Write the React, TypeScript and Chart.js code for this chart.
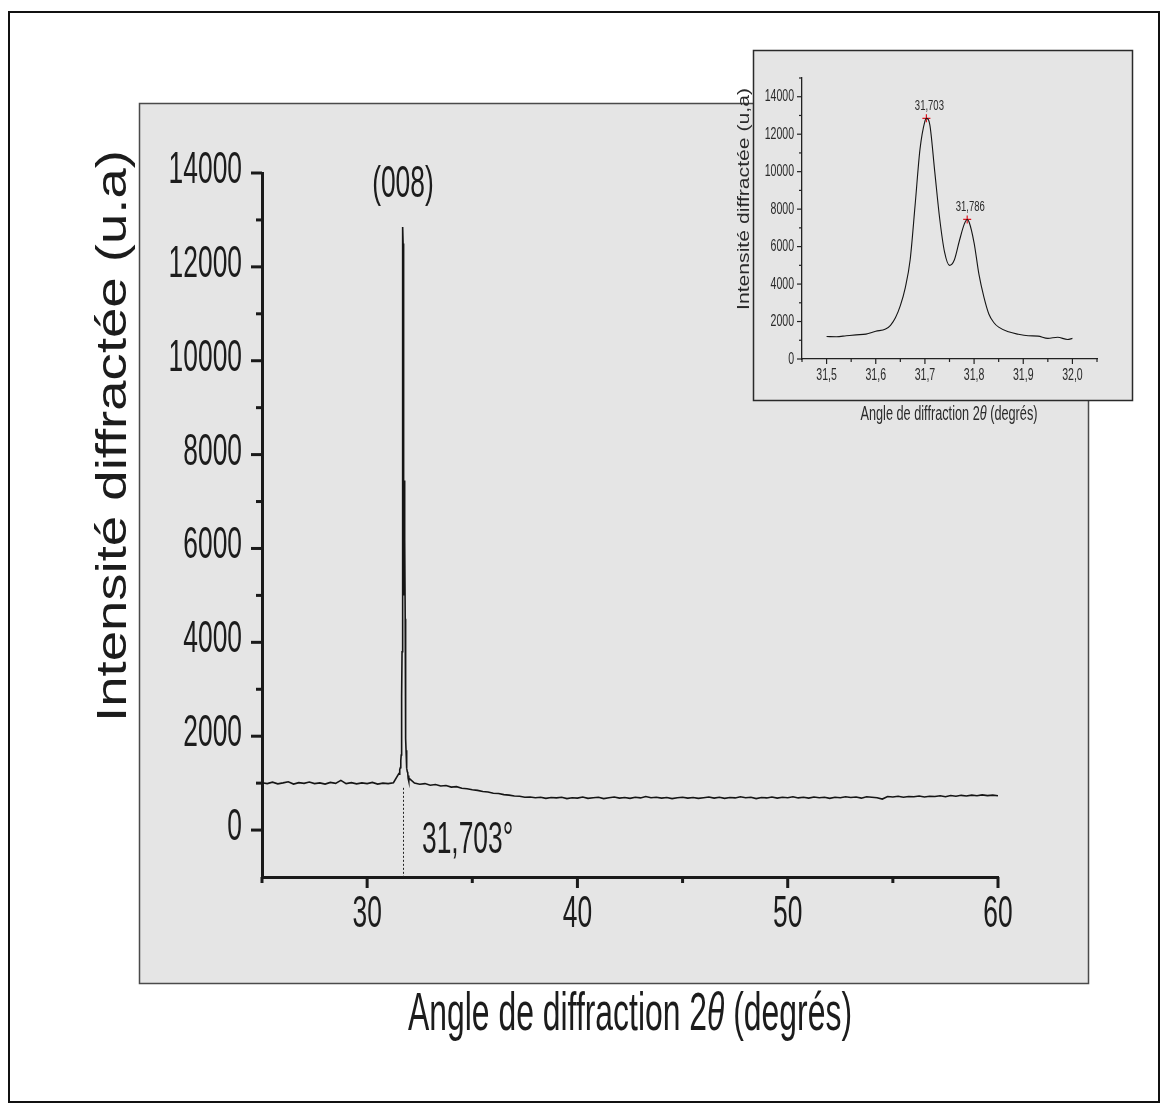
import React, { useEffect, useRef } from 'react';
import { Chart, registerables } from 'chart.js';

Chart.register(...registerables);

// ---------------- DATA ----------------
// main scan: evenly spaced 2θ grid (step 0.25°) before and after the (008) doublet
const SCAN_STEP = 0.25;
const PRE_START = 25.0;
const PRE_COUNTS = [
  1010, 990, 1020, 985, 1005, 1030, 980, 1010, 995, 1025, 990, 1005, 980,
  1015, 995, 1060, 990, 1010, 985, 1005, 990, 1015, 980, 1000, 990, 1010,
];
const POST_START = 32.25;
const POST_COUNTS = [
  1000, 975, 990, 955, 970, 940, 950, 915,
  925, 890, 880, 860, 845, 820, 810, 785,
  780, 755, 745, 725, 720, 700, 705, 690,
  700, 675, 695, 685, 700, 670, 690, 680,
  705, 675, 690, 700, 670, 690, 705, 680,
  695, 675, 700, 685, 715, 690, 700, 680,
  695, 670, 690, 700, 680, 695, 675, 690,
  705, 680, 700, 675, 695, 685, 710, 690,
  700, 670, 695, 685, 705, 680, 700, 690,
  710, 685, 700, 680, 705, 690, 700, 675,
  700, 690, 710, 695, 705, 680, 710, 700,
  690, 660, 715, 705, 720, 700, 715, 710,
  725, 705, 720, 715, 730, 710, 735, 720,
  740, 725, 745, 730, 750, 735, 745, 730,
];
// fine scan of the doublet (inset)
const PEAK_ANGLES = [
  31.5, 31.52, 31.54, 31.56, 31.58, 31.6, 31.62, 31.63, 31.64, 31.65, 31.66,
  31.67, 31.68, 31.69, 31.7, 31.703, 31.71, 31.72, 31.73, 31.74, 31.75, 31.76,
  31.77, 31.78, 31.786, 31.79, 31.8, 31.81, 31.82, 31.83, 31.84, 31.85, 31.87,
  31.89, 31.91, 31.93, 31.95, 31.97, 31.99, 32.0,
];
const PEAK_COUNTS = [
  1200, 1190, 1240, 1290, 1330, 1480, 1600, 1800, 2200, 2850, 3800,
  5300, 8200, 11200, 12700, 12850, 12500, 10000, 7500, 5700, 5000, 5300,
  6300, 7200, 7450, 7300, 6200, 4500, 3300, 2400, 1950, 1700, 1450,
  1320, 1240, 1220, 1100, 1160, 1040, 1100,
];
const MARKER_ANGLES = [31.703, 31.786];
const MARKER_COUNTS = [12850, 7450];
const MARKER_LABELS = ['31,703', '31,786'];

const MAIN_PEAK_LABEL = '(008)';
const MAIN_PEAK_ANGLE = 31.703;
const MAIN_PEAK_TEXT = '31,703°';

const MAIN_X_MAJOR = [30, 40, 50, 60];
const MAIN_X_MINOR = [25, 35, 45, 55];
const MAIN_Y_MAJOR = [0, 2000, 4000, 6000, 8000, 10000, 12000, 14000];
const MAIN_Y_MINOR = [1000, 3000, 5000, 7000, 9000, 11000, 13000];

const INSET_X_MAJOR = [31.5, 31.6, 31.7, 31.8, 31.9, 32.0];
const INSET_X_LABELS = ['31,5', '31,6', '31,7', '31,8', '31,9', '32,0'];
const INSET_X_MINOR = [31.45, 31.55, 31.65, 31.75, 31.85, 31.95, 32.05];
const INSET_Y_MAJOR = [0, 2000, 4000, 6000, 8000, 10000, 12000, 14000];
const INSET_Y_MINOR = [1000, 3000, 5000, 7000, 9000, 11000, 13000, 15000];

const Y_TITLE_MAIN = 'Intensité diffractée (u.a)';
const Y_TITLE_INSET = 'Intensité diffractée (u,a)';
const X_TITLE_SEGS = [
  { t: 'Angle de diffraction 2' },
  { t: 'θ', italic: true },
  { t: ' (degrés)' },
];

// ---------------- HELPERS ----------------
const FONT = '"Liberation Sans", Arial, Helvetica, sans-serif';
const INK = '#1c1c1c';

type Seg = { t: string; italic?: boolean };
function drawText(
  ctx: CanvasRenderingContext2D,
  text: string | Seg[],
  x: number,
  y: number,
  size: number,
  opts: { width?: number; scale?: number; align?: 'left' | 'center' | 'right'; rotate?: number; color?: string }
) {
  const parts: Seg[] = typeof text === 'string' ? [{ t: text }] : text;
  ctx.save();
  ctx.translate(x, y);
  if (opts.rotate) ctx.rotate(opts.rotate);
  let natural = 0;
  const widths = parts.map((p) => {
    ctx.font = `${p.italic ? 'italic ' : ''}${size}px ${FONT}`;
    const w = ctx.measureText(p.t).width;
    natural += w;
    return w;
  });
  const s = opts.width ? opts.width / natural : opts.scale ?? 1;
  const total = natural * s;
  const start = opts.align === 'left' ? 0 : opts.align === 'right' ? -total : -total / 2;
  ctx.translate(start, 0);
  ctx.scale(s, 1);
  ctx.textAlign = 'left';
  ctx.textBaseline = 'alphabetic';
  ctx.fillStyle = opts.color ?? INK;
  let cx = 0;
  parts.forEach((p, i) => {
    ctx.font = `${p.italic ? 'italic ' : ''}${size}px ${FONT}`;
    ctx.fillText(p.t, cx, 0);
    cx += widths[i];
  });
  ctx.restore();
}

function line(ctx: CanvasRenderingContext2D, x1: number, y1: number, x2: number, y2: number) {
  ctx.beginPath();
  ctx.moveTo(x1, y1);
  ctx.lineTo(x2, y2);
  ctx.stroke();
}

// ---------------- COMPONENT ----------------
export default function App() {
  const mainRef = useRef<HTMLCanvasElement | null>(null);
  const insetRef = useRef<HTMLCanvasElement | null>(null);

  useEffect(() => {
    const mainPoints: { x: number; y: number }[] = [];
    PRE_COUNTS.forEach((c, i) => mainPoints.push({ x: PRE_START + i * SCAN_STEP, y: c }));
    PEAK_ANGLES.forEach((a, i) => mainPoints.push({ x: a, y: PEAK_COUNTS[i] }));
    POST_COUNTS.forEach((c, i) => mainPoints.push({ x: POST_START + i * SCAN_STEP, y: c }));

    const mainDecor = {
      id: 'mainDecor',
      beforeDraw(chart: any) {
        const ctx = chart.ctx as CanvasRenderingContext2D;
        ctx.save();
        ctx.fillStyle = '#ffffff';
        ctx.fillRect(0, 0, chart.width, chart.height);
        // outer frame
        ctx.strokeStyle = '#111';
        ctx.lineWidth = 2;
        ctx.strokeRect(9, 12, 1150, 1090);
        // grey panel
        ctx.fillStyle = '#e5e5e5';
        ctx.fillRect(139, 103, 950, 881);
        ctx.strokeStyle = '#4a4a4a';
        ctx.lineWidth = 1.5;
        ctx.strokeRect(139.5, 103.5, 949, 880);
        ctx.restore();
      },
      afterDraw(chart: any) {
        const ctx = chart.ctx as CanvasRenderingContext2D;
        const xs = chart.scales.x;
        const ys = chart.scales.y;
        const { left, bottom } = chart.chartArea;
        ctx.save();
        ctx.strokeStyle = '#1a1a1a';
        ctx.lineWidth = 3;
        MAIN_X_MAJOR.forEach((v) => line(ctx, xs.getPixelForValue(v), bottom, xs.getPixelForValue(v), bottom + 11));
        MAIN_X_MINOR.forEach((v) => line(ctx, xs.getPixelForValue(v), bottom, xs.getPixelForValue(v), bottom + 6));
        MAIN_Y_MAJOR.forEach((v) => line(ctx, left - 11, ys.getPixelForValue(v), left, ys.getPixelForValue(v)));
        MAIN_Y_MINOR.forEach((v) => line(ctx, left - 6, ys.getPixelForValue(v), left, ys.getPixelForValue(v)));
        // tick labels
        MAIN_X_MAJOR.forEach((v) => drawText(ctx, String(v), xs.getPixelForValue(v), bottom + 50, 44, { scale: 0.6, align: 'center' }));
        MAIN_Y_MAJOR.forEach((v) => drawText(ctx, String(v), left - 20, ys.getPixelForValue(v) + 10, 44, { scale: 0.6, align: 'right' }));
        // titles
        drawText(ctx, X_TITLE_SEGS, 630, 1030, 53, { width: 444, align: 'center' });
        drawText(ctx, Y_TITLE_MAIN, 126, 436, 43, { width: 572, align: 'center', rotate: -Math.PI / 2 });
        // peak annotation
        const px = xs.getPixelForValue(MAIN_PEAK_ANGLE);
        drawText(ctx, MAIN_PEAK_LABEL, px, 197, 44, { scale: 0.6, align: 'center' });
        drawText(ctx, MAIN_PEAK_TEXT, px + 19, 853, 44, { scale: 0.6, align: 'left' });
        ctx.strokeStyle = '#222';
        ctx.lineWidth = 1;
        ctx.setLineDash([2, 2]);
        line(ctx, Math.round(px) + 0.5, ys.getPixelForValue(900), Math.round(px) + 0.5, bottom);
        ctx.restore();
      },
    };

    const main = new Chart(mainRef.current as HTMLCanvasElement, {
      type: 'line',
      data: {
        datasets: [
          {
            data: mainPoints,
            borderColor: '#151515',
            borderWidth: 1.6,
            pointRadius: 0,
            tension: 0,
            fill: false,
          },
        ],
      },
      options: {
        responsive: false,
        animation: false,
        devicePixelRatio: 1,
        layout: { padding: { top: 173, right: 170, left: 0, bottom: 0 } },
        plugins: { legend: { display: false }, tooltip: { enabled: false }, title: { display: false } },
        scales: {
          x: {
            type: 'linear',
            min: 25,
            max: 60,
            ticks: { display: false },
            grid: { display: false, drawTicks: false },
            border: { display: true, width: 3, color: '#1a1a1a' },
            afterFit: (s: any) => {
              s.height = 236;
            },
          },
          y: {
            type: 'linear',
            min: -1000,
            max: 14000,
            ticks: { display: false },
            grid: { display: false, drawTicks: false },
            border: { display: true, width: 3, color: '#1a1a1a' },
            afterFit: (s: any) => {
              s.width = 262;
            },
          },
        },
      } as any,
      plugins: [mainDecor],
    });

    // ---------- inset ----------
    const OX = 720;
    const OY = 40;
    const insetDecor = {
      id: 'insetDecor',
      beforeDraw(chart: any) {
        const ctx = chart.ctx as CanvasRenderingContext2D;
        ctx.save();
        ctx.fillStyle = '#e5e5e5';
        ctx.fillRect(753 - OX, 50 - OY, 380, 351);
        ctx.strokeStyle = '#2a2a2a';
        ctx.lineWidth = 1.5;
        ctx.strokeRect(753.5 - OX, 50.5 - OY, 379, 350);
        ctx.restore();
      },
      afterDraw(chart: any) {
        const ctx = chart.ctx as CanvasRenderingContext2D;
        const xs = chart.scales.x;
        const ys = chart.scales.y;
        const { left, bottom } = chart.chartArea;
        ctx.save();
        ctx.strokeStyle = '#222';
        ctx.lineWidth = 1.2;
        INSET_X_MAJOR.forEach((v) => line(ctx, xs.getPixelForValue(v), bottom, xs.getPixelForValue(v), bottom + 5));
        INSET_X_MINOR.forEach((v) => line(ctx, xs.getPixelForValue(v), bottom, xs.getPixelForValue(v), bottom + 3));
        INSET_Y_MAJOR.forEach((v) => line(ctx, left - 5, ys.getPixelForValue(v), left, ys.getPixelForValue(v)));
        INSET_Y_MINOR.forEach((v) => line(ctx, left - 3, ys.getPixelForValue(v), left, ys.getPixelForValue(v)));
        INSET_X_MAJOR.forEach((v, i) =>
          drawText(ctx, INSET_X_LABELS[i], xs.getPixelForValue(v), bottom + 21, 16, { scale: 0.66, align: 'center', color: '#2a2a2a' })
        );
        INSET_Y_MAJOR.forEach((v) =>
          drawText(ctx, String(v), left - 8, ys.getPixelForValue(v) + 4.5, 16, { scale: 0.66, align: 'right', color: '#2a2a2a' })
        );
        MARKER_ANGLES.forEach((a, i) =>
          drawText(ctx, MARKER_LABELS[i], xs.getPixelForValue(a) + 3, ys.getPixelForValue(MARKER_COUNTS[i]) - 8, 14, {
            scale: 0.68,
            align: 'center',
            color: '#2a2a2a',
          })
        );
        drawText(ctx, X_TITLE_SEGS, 949 - OX, 419.5 - OY, 20, { width: 177, align: 'center', color: '#2a2a2a' });
        drawText(ctx, Y_TITLE_INSET, 749 - OX, 199 - OY, 17, { width: 222, align: 'center', rotate: -Math.PI / 2, color: '#2a2a2a' });
        ctx.restore();
      },
    };

    const inset = new Chart(insetRef.current as HTMLCanvasElement, {
      type: 'line',
      data: {
        datasets: [
          {
            data: PEAK_ANGLES.map((a, i) => ({ x: a, y: PEAK_COUNTS[i] })),
            borderColor: '#151515',
            borderWidth: 1.1,
            pointRadius: 0,
            cubicInterpolationMode: 'monotone',
            fill: false,
          },
          {
            data: MARKER_ANGLES.map((a, i) => ({ x: a, y: MARKER_COUNTS[i] })),
            showLine: false,
            pointStyle: 'cross',
            pointRadius: 4,
            pointBorderWidth: 1.2,
            pointBorderColor: '#e0141e',
            borderColor: '#e0141e',
          },
        ],
      },
      options: {
        responsive: false,
        animation: false,
        devicePixelRatio: 1,
        layout: { padding: { top: 38, right: 63, left: 0, bottom: 0 } },
        plugins: { legend: { display: false }, tooltip: { enabled: false }, title: { display: false } },
        scales: {
          x: {
            type: 'linear',
            min: 31.45,
            max: 32.05,
            ticks: { display: false },
            grid: { display: false, drawTicks: false },
            border: { display: true, width: 1.3, color: '#222' },
            afterFit: (s: any) => {
              s.height = 81;
            },
          },
          y: {
            type: 'linear',
            min: 0,
            max: 15000,
            ticks: { display: false },
            grid: { display: false, drawTicks: false },
            border: { display: true, width: 1.3, color: '#222' },
            afterFit: (s: any) => {
              s.width = 82;
            },
          },
        },
      } as any,
      plugins: [insetDecor],
    });

    return () => {
      main.destroy();
      inset.destroy();
    };
  }, []);

  return (
    <div style={{ position: 'absolute', left: 0, top: 0, width: 1168, height: 1113, background: '#fff', overflow: 'hidden' }}>
      <canvas ref={mainRef} width={1168} height={1113} style={{ position: 'absolute', left: 0, top: 0, width: 1168, height: 1113 }} />
      <canvas ref={insetRef} width={440} height={400} style={{ position: 'absolute', left: 720, top: 40, width: 440, height: 400 }} />
    </div>
  );
}
